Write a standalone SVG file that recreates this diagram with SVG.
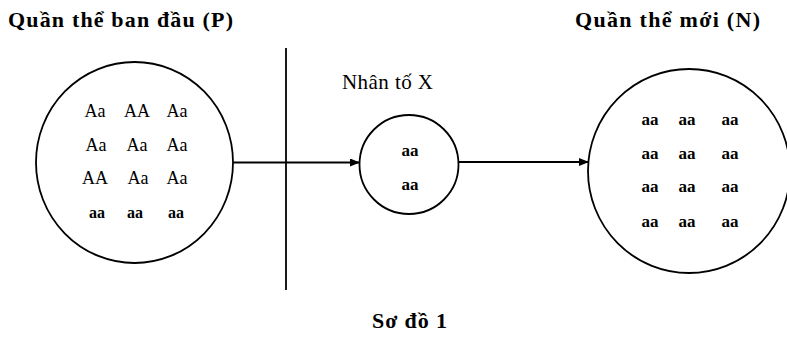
<svg xmlns="http://www.w3.org/2000/svg" width="787" height="337" viewBox="0 0 787 337">
<style>
.t{font-family:"Liberation Serif","Times New Roman",serif;fill:#000}
.b{font-weight:bold}
.g{font-size:18px;text-anchor:middle}
.a{font-size:16px;font-weight:bold;text-anchor:middle}
.s{font-size:17px;font-weight:bold;text-anchor:middle}
.c{fill:none;stroke:#000;stroke-width:1.8}
.l{stroke:#000;stroke-width:1.8;fill:none}
</style>
<defs>
<marker id="ah" markerWidth="10" markerHeight="8" refX="9" refY="4" orient="auto" markerUnits="userSpaceOnUse">
<path d="M0,0 L10,4 L0,8 Z" fill="#000"/>
</marker>
</defs>
<rect width="787" height="337" fill="#fff"/>
<text class="t b" x="8" y="27" font-size="22" textLength="225" lengthAdjust="spacing">Quần thể ban đầu (P)</text>
<text class="t b" x="575" y="27" font-size="22" textLength="185" lengthAdjust="spacing">Quần thể mới (N)</text>
<text class="t b" x="372" y="328" font-size="22" textLength="75" lengthAdjust="spacing">Sơ đồ 1</text>
<text class="t" x="342" y="89" font-size="21" textLength="91" lengthAdjust="spacing">Nhân tố X</text>
<g id="divider"><line class="l" x1="286" y1="48" x2="286" y2="290"/></g>
<g id="population-P">
<ellipse class="c" cx="134.5" cy="162.5" rx="98.5" ry="100.5"/>
<g class="t g">
<text x="95" y="117">Aa</text><text x="137" y="117">AA</text><text x="177" y="117">Aa</text>
<text x="96" y="151">Aa</text><text x="137" y="151">Aa</text><text x="177" y="151">Aa</text>
<text x="95" y="184">AA</text><text x="138" y="184">Aa</text><text x="177" y="184">Aa</text>
</g>
<g class="t a">
<text x="97" y="218">aa</text><text x="135" y="218">aa</text><text x="176" y="218">aa</text>
</g>
</g>
<g id="factor-X">
<ellipse class="c" cx="409" cy="164.5" rx="49.5" ry="49.5"/>
<g class="t s"><text x="410" y="156">aa</text><text x="410" y="190">aa</text></g>
</g>
<g id="population-N">
<ellipse class="c" cx="689" cy="171" rx="101" ry="102"/>
<g class="t s">
<text x="650" y="125">aa</text><text x="687" y="125">aa</text><text x="730" y="125">aa</text>
<text x="650" y="159">aa</text><text x="687" y="159">aa</text><text x="730" y="159">aa</text>
<text x="650" y="192">aa</text><text x="687" y="192">aa</text><text x="730" y="192">aa</text>
<text x="650" y="227">aa</text><text x="687" y="227">aa</text><text x="730" y="227">aa</text>
</g>
</g>
<g id="connectors">
<line class="l" x1="233" y1="162.5" x2="359" y2="162.5" marker-end="url(#ah)"/>
<line class="l" x1="458.5" y1="162" x2="588" y2="162" marker-end="url(#ah)"/>
</g>
</svg>
